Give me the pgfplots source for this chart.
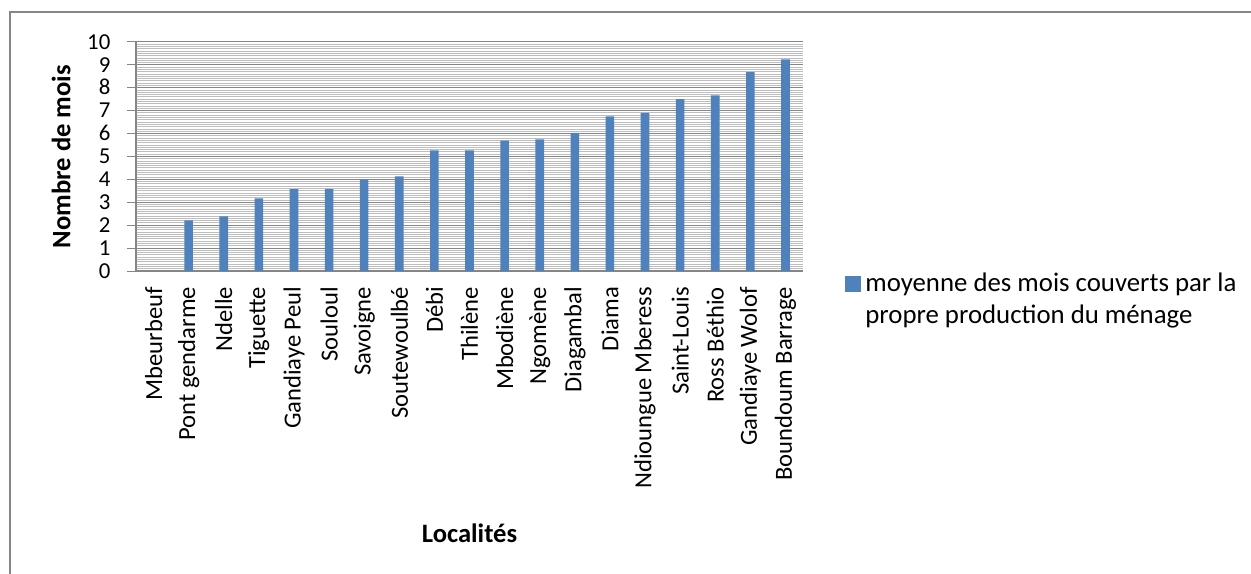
\documentclass[border=0pt]{standalone}
\usepackage{pgfplots}
\pgfplotsset{compat=1.18}
\usepackage{fontspec}
\setmainfont{Carlito}
\definecolor{barblue}{HTML}{4F81BD}
\definecolor{axgray}{HTML}{868686}
\definecolor{minorgray}{HTML}{BDBDBD}
\pgfplotstableread{
x y
0 0
1 2.21
2 2.39
3 3.17
4 3.57
5 3.57
6 3.99
7 4.13
8 5.27
9 5.27
10 5.69
11 5.75
12 6.03
13 6.75
14 6.90
15 7.50
16 7.67
17 8.68
18 9.24
}\datatable
\begin{document}
\begin{tikzpicture}[x=1bp,y=1bp]
\useasboundingbox (0,0) rectangle (625.5,286.5);
\draw[axgray, line width=0.7bp] (5,-2) -- (5,280.5) -- (628,280.5);
\begin{axis}[
  at={(68bp,151bp)}, anchor=south west,
  scale only axis, width=333.5bp, height=114.5bp,
  xmin=-0.5, xmax=18.5, ymin=0, ymax=10,
  ybar, bar width=4.3bp,
  xtick={0,...,18},
  xticklabels={Mbeurbeuf,Pont gendarme,Ndelle,Tiguette,Gandiaye Peul,Souloul,Savoigne,Soutewoulbé,Débi,Thilène,Mbodiène,Ngomène,Diagambal,Diama,Ndioungue Mberess,Saint-Louis,Ross Béthio,Gandiaye Wolof,Boundoum Barrage},
  ytick={0,...,10}, minor y tick num=9,
  ymajorgrids, yminorgrids,
  major grid style={axgray, line width=0.5bp},
  minor grid style={minorgray, line width=0.5bp},
  axis x line*=bottom, axis y line*=left,
  axis line style={axgray, line width=0.7bp},
  tick align=outside, major tick length=4.5bp, minor tick length=0pt,
  xtick style={draw=none}, ytick style={axgray, line width=0.5bp},
  /pgf/number format/assume math mode=true,
  yticklabel style={font=\fontsize{11.4bp}{13bp}\selectfont, inner ysep=0pt, text height=7.2bp, text depth=0pt, xshift=-4.8bp},
  xticklabel style={rotate=90, anchor=east, font=\fontsize{12.3bp}{15bp}\selectfont},
  xlabel={Localités}, ylabel={Nombre de mois},
  xlabel style={at={(axis description cs:0.5,-1.144)}, anchor=center, font=\fontsize{13.3bp}{16bp}\selectfont\bfseries},
  ylabel style={at={(axis description cs:-0.1124,0.5)}, anchor=center, font=\fontsize{13.3bp}{16bp}\selectfont\bfseries},
  legend style={at={(axis description cs:1.063,0.028)}, anchor=north west, draw=none, fill=none, inner sep=0pt, font=\fontsize{13.4bp}{16bp}\selectfont},
  legend image code/.code={\fill[barblue] (0bp,-5.3bp) rectangle (8bp,2.7bp);},
]
\addplot[fill=barblue, draw=none] table[x=x,y=y] {\datatable};
\addlegendentry{\begin{tabular}[t]{@{}l@{}}moyenne des mois couverts par la\\propre production du ménage\end{tabular}}
\end{axis}
\end{tikzpicture}
\end{document}
